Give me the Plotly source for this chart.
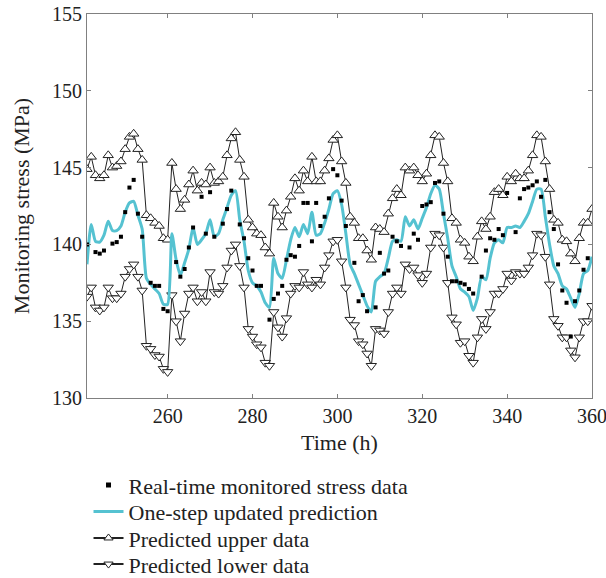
import plotly.graph_objects as go

hours = list(range(241, 361))

# Real-time monitored stress (MPa); None where no sample is shown
monitored = [
    140.0, None, 139.5, 139.4, 139.6, None, 140.05, 140.15, 140.5, 142.1,
    143.7, 144.2, 142.0, 140.5, None, 137.5, 137.3, 137.3, 135.8, 135.65,
    None, 138.85, 137.9, 138.4, 139.8, 141.1, None, 143.1, 140.7, 143.4,
    140.5, None, 141.35, 142.3, 143.5, None, 141.3, 140.4, 139.1, 138.3,
    137.3, 137.3, None, 135.1, 136.45, 136.8, 137.3, 139.0, 139.3, 139.2,
    139.9, 142.7, 142.7, 140.2, 142.7, 141.2, 141.8, 143.0, 144.9, 144.5,
    142.85, 141.2, None, 138.8, 136.3, 136.7, 135.65, None, 135.9, 139.45,
    138.1, 138.3, 140.5, 140.2, 139.9, None, 139.8, 140.7, 140.3, 142.5,
    142.6, 142.75, 144.0, 144.1, 142.0, 139.2, 137.6, 137.6, 137.5, 137.4,
    137.1, 136.8, None, 137.9, 139.6, 140.4, 140.3, 141.0, 140.6, 143.35,
    None, 140.8, 143.0, 143.6, 143.7, 143.85, 144.1, 143.1, 144.2, 142.1,
    141.0, 138.7, 137.0, 136.2, 134.0, 136.3, 137.0, 138.35, 139.1, None,
]

# One-step updated prediction (MPa)
prediction = [
    138.7, 141.3, 140.2, 140.15, 140.6, 141.5, 140.9, 140.9, 141.2, 142.1,
    142.7, 142.8, 141.9, 141.0, 137.8, 137.4, 137.1, 136.8, 136.1, 136.1,
    140.7, 139.0, 138.0, 138.8, 139.7, 141.1, 140.0, 140.3, 140.7, 141.6,
    140.5, 140.7, 141.6, 142.4, 143.2, 143.5, 141.6, 140.2, 138.3, 137.5,
    137.3, 136.9, 136.2, 135.9, 139.1, 138.1, 137.8, 139.0, 140.3, 141.1,
    140.5, 141.3, 140.7, 142.1, 140.6, 140.7, 141.4, 142.3, 143.3, 143.5,
    142.6, 140.7, 138.7, 138.1, 137.4, 136.7, 136.0, 135.6, 137.6, 137.9,
    138.1, 139.1, 140.2, 140.3, 140.2, 141.8, 141.2, 141.6, 141.0, 141.7,
    142.4, 143.3, 143.85, 143.6, 142.0, 140.4, 138.6, 137.9, 137.1, 136.9,
    136.6, 135.7, 136.5, 137.9, 137.7, 139.1, 140.1, 140.3, 140.1, 141.1,
    141.1, 141.2, 141.1, 141.5, 142.0, 142.8, 143.6, 143.6, 141.8, 140.0,
    138.6, 138.1, 137.3, 137.1, 136.5, 135.9, 136.8, 138.1, 138.3, 139.2,
]

# Predicted upper bound (MPa)
upper = [
    144.9, 145.7, 144.5, 144.3, 144.5, 145.8, 145.0, 145.1, 145.4, 146.2,
    147.0, 147.2, 146.2, 145.5, 141.9, 141.7, 141.4, 141.2, 140.4, 140.3,
    145.3, 143.6, 142.3, 142.9, 143.9, 144.8, 143.5, 144.0, 143.9, 145.0,
    144.0, 144.1, 144.4, 145.8, 146.9, 147.3, 145.5, 144.4, 141.6, 141.1,
    140.7, 140.6, 139.8, 139.4, 142.7, 141.8, 141.1, 142.2, 143.1, 144.3,
    143.5, 144.8, 144.1, 145.7, 144.1, 144.1, 144.8, 145.6, 146.8, 147.1,
    145.4, 144.0, 141.8, 141.4, 140.4, 140.4, 139.6, 139.0, 141.1, 141.0,
    140.8, 142.0, 143.0, 143.6, 143.2, 145.0, 144.8, 145.0, 144.5, 144.1,
    144.6, 145.8, 147.1, 147.0, 145.3, 144.1, 141.7, 141.4, 140.3, 140.1,
    139.2, 138.9, 140.5, 141.5, 141.0, 141.8, 143.4, 143.6, 143.2, 144.4,
    144.1, 144.6, 144.3, 144.3, 144.8, 145.8, 147.1, 147.0, 145.4, 143.6,
    141.6, 141.4, 140.3, 140.2, 139.4, 138.9, 140.4, 141.4, 141.4, 142.3,
]

# Predicted lower bound (MPa)
lower = [
    136.6, 137.2, 135.9, 135.7, 135.9, 137.2, 136.5, 136.5, 136.8, 137.9,
    138.4, 138.7, 137.9, 137.0, 133.4, 133.2, 132.8, 132.7, 131.9, 131.7,
    136.7, 135.0, 133.7, 135.5, 136.8, 137.2, 136.3, 136.9, 136.3, 138.2,
    136.9, 136.8, 137.3, 138.5, 139.6, 140.0, 138.6, 137.2, 134.5, 134.0,
    133.5, 133.3, 132.3, 132.1, 135.6, 134.6, 134.0, 135.2, 136.8, 137.3,
    137.2, 138.2, 137.4, 137.2, 137.7, 137.4, 138.5, 139.3, 140.2, 140.3,
    138.9, 137.2, 135.1, 134.75, 133.7, 133.5, 132.9, 132.1, 134.5, 134.4,
    134.2, 135.6, 136.8, 137.2, 136.8, 138.7, 138.4, 138.5, 138.0, 137.5,
    138.1, 139.8, 140.7, 140.6, 139.8, 137.5, 135.25, 134.8, 133.6, 133.7,
    132.75, 132.3, 133.95, 135.15, 134.5, 135.6, 136.8, 136.8, 137.1, 138.1,
    137.65, 138.2, 138.1, 138.1, 138.5, 139.3, 140.7, 140.6, 139.2, 137.4,
    135.15, 134.7, 133.95, 133.95, 133.1, 132.65, 133.95, 135.0, 135.0, 136.0,
]

x_ticks = [260, 280, 300, 320, 340, 360]
y_ticks = [130, 135, 140, 145, 150, 155]

FONT = "Liberation Serif"
INK = "#222222"
CYAN = "#55C2D1"

fig = go.Figure()

band_line = dict(color=INK, width=1)
band_edge = dict(color=INK, width=1)

fig.add_trace(go.Scatter(
    x=hours, y=upper, mode="lines+markers", name="Predicted upper data",
    line=band_line,
    marker=dict(symbol="triangle-up", size=9, color="white", line=band_edge),
    showlegend=False,
))
fig.add_trace(go.Scatter(
    x=hours, y=lower, mode="lines+markers", name="Predicted lower data",
    line=band_line,
    marker=dict(symbol="triangle-down", size=9, color="white", line=band_edge),
    showlegend=False,
))
fig.add_trace(go.Scatter(
    x=hours, y=prediction, mode="lines", name="One-step updated prediction",
    line=dict(color=CYAN, width=3, shape="spline", smoothing=0.6),
    showlegend=False,
))
fig.add_trace(go.Scatter(
    x=hours, y=monitored, mode="markers", name="Real-time monitored stress data",
    marker=dict(symbol="square", size=4, color="black"),
    showlegend=False,
))

# Legend entries; each sits in its own legend box so rows can be spaced freely
legend_specs = [
    dict(name="Real-time monitored stress data", mode="markers",
         marker=dict(symbol="square", size=5, color="black")),
    dict(name="One-step updated prediction", mode="lines",
         line=dict(color=CYAN, width=3)),
    dict(name="Predicted upper data", mode="lines+markers",
         line=dict(color=INK, width=2),
         marker=dict(symbol="triangle-up", size=8, color="white", line=band_edge)),
    dict(name="Predicted lower data", mode="lines+markers",
         line=dict(color=INK, width=2),
         marker=dict(symbol="triangle-down", size=8, color="white", line=band_edge)),
]
legend_ids = ["legend", "legend2", "legend3", "legend4"]
legend_rows = [-0.227, -0.296, -0.365, -0.433]

for spec, lid in zip(legend_specs, legend_ids):
    fig.add_trace(go.Scatter(x=[None], y=[None], showlegend=True,
                             legend=lid, **spec))

legend_style = dict(
    x=0.003, xanchor="left", yanchor="middle", orientation="v",
    font=dict(family=FONT, size=22, color=INK),
    bgcolor="rgba(0,0,0,0)", itemwidth=30,
)
fig.update_layout({lid: dict(y=yy, **legend_style)
                   for lid, yy in zip(legend_ids, legend_rows)})

axis_common = dict(
    showline=True, linecolor="#808080", linewidth=1, mirror="ticks",
    ticks="inside", ticklen=4, tickcolor="#808080", showgrid=False,
    zeroline=False, ticklabeloverflow="allow",
    tickfont=dict(family=FONT, size=20, color=INK),
)

fig.update_xaxes(
    range=[241, 360], tickvals=x_ticks,
    title=dict(text="Time (h)", font=dict(family=FONT, size=22, color=INK),
               standoff=8),
    **axis_common,
)
fig.update_yaxes(
    range=[130, 155], tickvals=y_ticks,
    title=dict(text="Monitoring stress (MPa)",
               font=dict(family=FONT, size=22, color=INK), standoff=16),
    **axis_common,
)

fig.update_layout(
    width=606, height=578,
    margin=dict(l=87, r=14, t=14, b=180, autoexpand=False),
    plot_bgcolor="white", paper_bgcolor="white",
    font=dict(family=FONT, size=20, color=INK),
)

fig.write_html("out.html")
